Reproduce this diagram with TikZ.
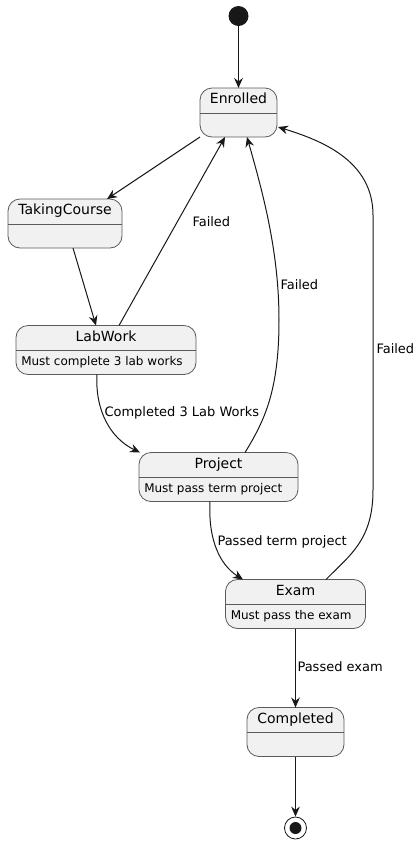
\documentclass[tikz,border=0pt]{standalone}
\usepackage{fontspec}
\setmainfont{DejaVu Sans}
\usetikzlibrary{arrows.meta,calc}
\definecolor{fond}{HTML}{F1F1F1}
\definecolor{trait}{HTML}{181818}
\definecolor{bord}{HTML}{5A5A5A}

\begin{document}
\begin{tikzpicture}[x=0.75pt,y=-0.75pt]
\tikzstyle{lien}=[-{Stealth[length=7.5pt,width=6.5pt,inset=2.5pt]},draw=trait,line width=0.75pt]
\tikzset{etat/.style={draw=bord,fill=fond,line width=0.6pt,rounded corners=9pt,inner sep=0pt,outer sep=0pt,minimum height=36.75pt,minimum width=#1},
etat/.default={60pt},
titre/.style={font=\fontsize{10.5}{12}\selectfont,inner sep=0pt,text height=7.6pt,text depth=2.4pt},
descr/.style={font=\fontsize{9}{11}\selectfont,inner sep=0pt,anchor=west,text height=6.5pt,text depth=2pt},
etiquette/.style={font=\fontsize{9.75}{12}\selectfont,inner sep=0pt,anchor=west,text height=7pt,text depth=2.2pt}}
\useasboundingbox (0,0) rectangle (420,844);

% pseudo-etats
\node[circle,fill=trait,minimum size=15pt,inner sep=0pt] (debut) at (238.5,16) {};
\node[circle,draw=trait,fill=white,line width=0.6pt,minimum size=16.5pt,inner sep=0pt] (fin) at (295.5,828) {};
\node[circle,fill=trait,minimum size=9pt,inner sep=0pt] (finpt) at (fin) {};

% etats
\node[etat=57.75pt] (enr) at (238.5,112.5) {};
\node[titre] (enrT) at ($(enr.north)+(0,12.5)$) {Enrolled};
\draw[draw=bord,line width=0.6pt] ($(enr.north west)+(0,25)$) -- ($(enr.north east)+(0,25)$);

\node[etat=85.5pt] (tak) at (65,223.5) {};
\node[titre] (takT) at ($(tak.north)+(0,12.5)$) {TakingCourse};
\draw[draw=bord,line width=0.6pt] ($(tak.north west)+(0,25)$) -- ($(tak.north east)+(0,25)$);

\node[etat=135pt] (lab) at (106,350) {};
\node[titre] (labT) at ($(lab.north)+(0,12.5)$) {LabWork};
\draw[draw=bord,line width=0.6pt] ($(lab.north west)+(0,25)$) -- ($(lab.north east)+(0,25)$);
\node[descr] (labD) at ($(lab.south west)+(5,-12)$) {Must complete 3 lab works};

\node[etat=119.25pt] (prj) at (218.5,477) {};
\node[titre] (prjT) at ($(prj.north)+(0,12.5)$) {Project};
\draw[draw=bord,line width=0.6pt] ($(prj.north west)+(0,25)$) -- ($(prj.north east)+(0,25)$);
\node[descr] (prjD) at ($(prj.south west)+(5,-12)$) {Must pass term project};

\node[etat=105pt] (exm) at (295.5,604) {};
\node[titre] (exmT) at ($(exm.north)+(0,12.5)$) {Exam};
\draw[draw=bord,line width=0.6pt] ($(exm.north west)+(0,25)$) -- ($(exm.north east)+(0,25)$);
\node[descr] (exmD) at ($(exm.south west)+(5,-12)$) {Must pass the exam};

\node[etat=72.75pt] (cmp) at (295.5,732) {};
\node[titre] (cmpT) at ($(cmp.north)+(0,12.5)$) {Completed};
\draw[draw=bord,line width=0.6pt] ($(cmp.north west)+(0,25)$) -- ($(cmp.north east)+(0,25)$);

% transitions
\draw[lien] (debut) -- (enr);
\draw[lien] (enr.south west) -- ($(tak.north)+(42,0)$);
\draw[lien] ($(tak.south)+(8,0)$) -- ($(lab.north)+(-10,0)$);
\draw[lien] ($(lab.north)+(13,0)$) -- ($(enr.south)+(-13.5,0)$) node[etiquette] (echec1) at (192,223) {Failed};
\draw[lien] ($(lab.south)+(-9,0)$) .. controls (95,410) and (110,438) .. ($(prj.north west)+(1,0)$) node[etiquette] (reussiLab) at (104,413) {Completed 3 Lab Works};
\draw[lien] ($(prj.north)+(26.5,0)$) .. controls (265,420) and (279,390) .. (279,320) .. controls (279,250) and (262,190) .. ($(enr.south)+(8.5,0)$) node[etiquette] (echec2) at (280,286) {Failed};
\draw[lien] ($(prj.south)+(-8.5,0)$) .. controls (208,540) and (220,565) .. ($(exm.north)+(-52.5,0)$) node[etiquette] (reussiPrj) at (217,542) {Passed term project};
\draw[lien] ($(exm.north)+(30.5,0)$) .. controls (350,555) and (373,540) .. (373,490) -- (373,215) .. controls (373,160) and (320,140) .. ($(enr.south east)+(1,-10)$) node[etiquette] (echec3) at (376,350) {Failed};
\draw[lien] (exm) -- (cmp) node[etiquette] (reussiExm) at (297,668) {Passed exam};
\draw[lien] (cmp) -- (fin);

\end{tikzpicture}
\end{document}
